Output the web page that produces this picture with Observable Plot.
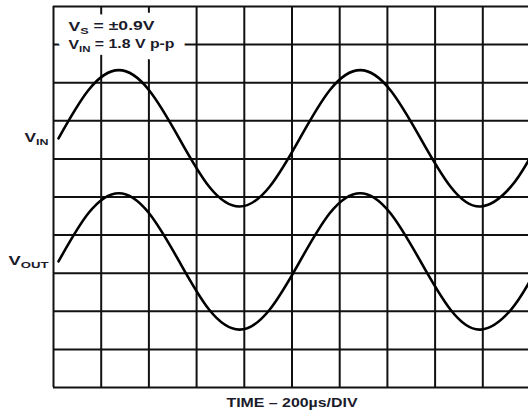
<!DOCTYPE html>
<html><head><meta charset="utf-8">
<script src="https://cdn.jsdelivr.net/npm/d3@7"></script>
<script src="https://cdn.jsdelivr.net/npm/@observablehq/plot@0.6"></script>
<style>html,body{margin:0;padding:0;background:#fff} svg{display:block}</style>
</head><body><div id="chart"></div>
<script>
// Time axis in µs (200 µs per division), vertical axis in divisions from the bottom
const timeUs = [21, 147, 274, 400, 527, 653, 780, 906, 1033, 1159, 1286, 1412, 1539, 1665, 1792, 1918, 2000];
const vinDiv = [6.54, 7.81, 8.33, 7.81, 6.54, 5.27, 4.75, 5.27, 6.54, 7.81, 8.33, 7.81, 6.54, 5.27, 4.75, 5.27, 6.05];
const voutDiv = [3.31, 4.58, 5.10, 4.58, 3.31, 2.04, 1.52, 2.04, 3.31, 4.58, 5.10, 4.58, 3.31, 2.04, 1.52, 2.04, 2.82];
const gridTimes = [0, 200, 400, 600, 800, 1000, 1200, 1400, 1600, 1800, 2000];
const gridDivs = [0, 1, 2, 3, 4, 5, 6, 7, 8, 9, 10];
const traceNames = ["VIN", "VOUT"];
const traceLevels = [6.54, 3.31];
const notes = ["VS = ±0.9V", "VIN = 1.8 V p-p"];
const xTitle = "TIME – 200µs/DIV";

// layout (positions of annotations, in data units) and styling
const noteX = [63, 63];
const noteY = [9.46, 8.99];
const textWidths = {"VS = ±0.9V": 86, "VIN = 1.8 V p-p": 106, "VIN": 24, "VOUT": 40, "TIME – 200µs/DIV": 131};
const ink = "#1b1b2b";

const series = [];
timeUs.forEach((t, i) => {
  series.push({name: "VIN", t, v: vinDiv[i]});
  series.push({name: "VOUT", t, v: voutDiv[i]});
});

const noteOpts = {x: (d, i) => noteX[i], y: (d, i) => noteY[i], text: d => d, textAnchor: "start",
  fontSize: 12.5, fontWeight: "bold"};

const svg = Plot.plot({
  width: 528, height: 410,
  marginLeft: 53, marginRight: -2, marginTop: 6, marginBottom: 23,
  x: {domain: [0, 2000], axis: null},
  y: {domain: [0, 10], axis: null},
  style: {fontFamily: "'Liberation Sans', Arial, sans-serif", background: "white"},
  marks: [
    Plot.ruleX(gridTimes, {stroke: "#111", strokeWidth: 2}),
    Plot.ruleY(gridDivs, {stroke: "#111", strokeWidth: 2}),
    Plot.line(series, {x: "t", y: "v", z: "name", curve: "natural", stroke: "#000", strokeWidth: 2.6}),
    Plot.text(notes, {...noteOpts, fill: "white", stroke: "white", strokeWidth: 17, strokeLinejoin: "round"}),
    Plot.text(notes, {...noteOpts, fill: ink}),
    Plot.text(traceNames, {x: () => 0, y: (d, i) => traceLevels[i], text: d => d, textAnchor: "end", dx: -5,
      fontSize: 12.5, fontWeight: "bold", fill: ink}),
    Plot.text([xTitle], {frameAnchor: "bottom", text: d => d, lineAnchor: "top", dy: 10,
      fontSize: 13.5, fontWeight: "bold", fill: ink})
  ]
});

// subscripts and widths
const ns = "http://www.w3.org/2000/svg";
const subs = ["OUT", "IN", "S"];
svg.querySelectorAll("text").forEach(el => {
  const s = el.textContent;
  const w = textWidths[s];
  const sub = subs.find(k => s.startsWith("V" + k));
  if (sub) {
    const rest = s.slice(1 + sub.length);
    el.textContent = "";
    const a = document.createElementNS(ns, "tspan"); a.textContent = "V"; el.appendChild(a);
    const b = document.createElementNS(ns, "tspan"); b.textContent = sub;
    b.setAttribute("font-size", "0.72em"); b.setAttribute("dy", "0.28em"); el.appendChild(b);
    if (rest) {
      const c = document.createElementNS(ns, "tspan"); c.textContent = rest;
      c.setAttribute("dy", "-0.28em"); el.appendChild(c);
    }
  }
  if (w) {
    el.setAttribute("textLength", w);
    el.setAttribute("lengthAdjust", "spacingAndGlyphs");
  }
});
document.getElementById("chart").appendChild(svg);
</script>
</body></html>
